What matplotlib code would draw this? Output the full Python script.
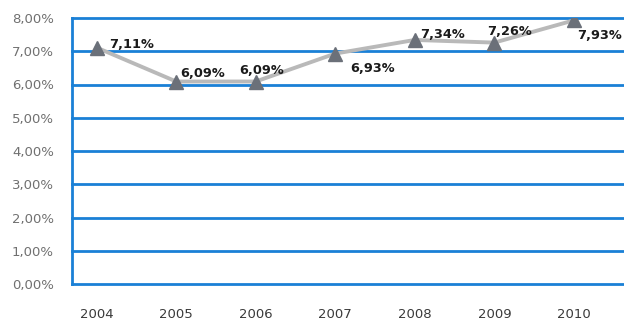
import numpy as np
import matplotlib
matplotlib.use("Agg")
import matplotlib.pyplot as plt

# dati
years = [2004, 2005, 2006, 2007, 2008, 2009, 2010]
rates = [7.11, 6.09, 6.09, 6.93, 7.34, 7.26, 7.93]
labels = ["7,11%", "6,09%", "6,09%", "6,93%", "7,34%", "7,26%", "7,93%"]
y_ticks = [0, 1, 2, 3, 4, 5, 6, 7, 8]
y_tick_labels = ["0,00%", "1,00%", "2,00%", "3,00%", "4,00%",
                 "5,00%", "6,00%", "7,00%", "8,00%"]

# spostamento delle etichette (punti)
offsets = [(25, 2), (19, 6), (4, 8), (27, -11), (20, 4), (11, 8), (2, -11)]
aligns = ["center"] * 6 + ["left"]

blue = "#1a80d6"

fig = plt.figure(figsize=(6.24, 3.22), dpi=100)
ax = fig.add_axes([72 / 624, 1 - 284 / 322, 1 - 72 / 624, 266 / 322])

for v in y_ticks:
    ax.axhline(v, color=blue, lw=2.0, zorder=1, clip_on=False)

ax.plot(years, rates, color="#b9b9b9", lw=2.8, zorder=2)
ax.plot(years, rates, ls="none", marker="^", ms=9.5, color="#6b7079",
        markeredgecolor="#6b7079", zorder=3)

for x, y, t, off, ha in zip(years, rates, labels, offsets, aligns):
    ax.annotate(t, (x, y), xytext=off, textcoords="offset points",
                ha=ha, va="center", fontsize=9.3, fontweight="bold",
                color="#1a1a1a", annotation_clip=False)

ax.set_xlim(2003.69, 2010.63)
ax.set_ylim(0, 8)
ax.set_xticks(years)
ax.set_xticklabels([str(y) for y in years])
ax.set_yticks(y_ticks)
ax.set_yticklabels(y_tick_labels)

for s in ["top", "right", "bottom"]:
    ax.spines[s].set_visible(False)
ax.spines["left"].set_color(blue)
ax.spines["left"].set_linewidth(2.0)

ax.tick_params(axis="both", length=0)
ax.tick_params(axis="y", pad=13, labelsize=9.5, labelcolor="#707070")
ax.tick_params(axis="x", pad=17, labelsize=9.5, labelcolor="#3a3a3a")

fig.savefig("out.png", dpi=100)
